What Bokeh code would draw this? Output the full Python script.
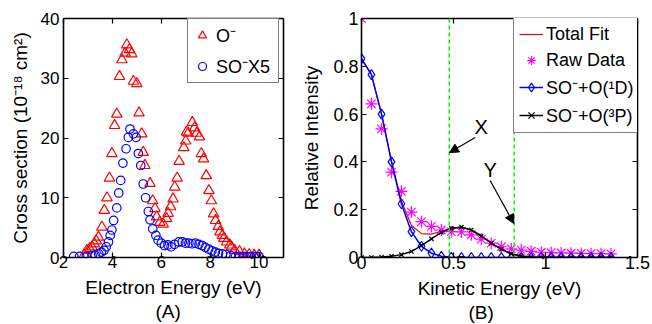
from bokeh.plotting import figure
from bokeh.models import (Range1d, LinearAxis, FixedTicker, CustomJSTickFormatter,
                          Legend, LegendItem, Title, Span, Arrow, NormalHead, Label)
from bokeh.layouts import row
from bokeh.embed import file_html
from bokeh.resources import INLINE

FONT = "Liberation Sans"

# ---------------- Panel (A) data ----------------
o_minus_energy = [2.85, 2.96, 3.07, 3.17, 3.26, 3.34, 3.43, 3.57, 3.67, 3.78,
                  3.88, 3.98, 4.09, 4.18, 4.29, 4.39, 4.52, 4.59, 4.70, 4.79,
                  4.86, 5.00, 5.09, 5.20, 5.26, 5.33, 5.54, 5.65, 5.74, 5.81,
                  5.94, 6.08, 6.22, 6.28, 6.38, 6.48, 6.55, 6.65, 6.73, 6.92,
                  7.00, 7.03, 7.10, 7.27, 7.36, 7.45, 7.56, 7.64, 7.73, 7.84,
                  7.95, 8.05, 8.14, 8.22, 8.33, 8.40, 8.50, 8.56, 8.67, 8.80,
                  8.87, 9.00, 9.20, 9.40, 9.60, 9.80, 10.00]
o_minus_cs = [0.5, 1.2, 1.5, 1.8, 2.3, 2.8, 3.4, 5.1, 7.9, 10.0,
              13.3, 17.4, 22.1, 24.0, 30.3, 33.1, 34.2, 35.6, 34.8, 34.1,
              29.5, 29.1, 24.2, 20.7, 17.6, 15.4, 12.4, 9.5, 8.2, 6.8,
              5.9, 5.6, 6.5, 7.4, 8.5, 9.8, 11.8, 13.3, 16.1, 18.4,
              19.5, 21.0, 20.8, 22.6, 21.7, 20.8, 20.2, 17.4, 16.5, 13.7,
              11.2, 9.5, 7.3, 6.2, 5.2, 4.3, 3.7, 3.2, 2.6, 2.1,
              1.8, 1.2, 1.0, 0.6, 0.5, 0.4, 0.4]

so_minus_energy = [2.42, 2.66, 2.93, 3.17, 3.30, 3.44, 3.55, 3.66, 3.75, 3.84,
                   3.91, 3.98, 4.05, 4.18, 4.26, 4.34, 4.43, 4.56, 4.65, 4.72,
                   4.86, 4.97, 5.06, 5.16, 5.26, 5.36, 5.47, 5.54, 5.65, 5.78,
                   5.87, 6.00, 6.13, 6.27, 6.40, 6.54, 6.72, 6.86, 6.99, 7.13,
                   7.26, 7.40, 7.54, 7.67, 7.80, 7.94, 8.07, 8.21, 8.34, 8.50,
                   8.64, 8.84, 9.04, 9.20, 9.35, 9.50, 9.65, 9.80, 9.90, 10.00]
so_minus_cs_x5 = [0.2, 0.2, 0.2, 0.3, 0.4, 0.6, 0.9, 1.2, 1.8, 2.6,
                  3.7, 4.6, 6.2, 8.3, 10.8, 12.9, 15.8, 18.2, 20.1, 21.5,
                  20.7, 20.1, 17.4, 15.4, 12.3, 10.0, 7.7, 6.3, 4.8, 3.7,
                  2.9, 2.4, 2.0, 2.1, 1.8, 2.2, 2.6, 2.6, 2.4, 2.4,
                  2.3, 2.4, 2.2, 2.0, 1.7, 1.4, 1.1, 0.9, 0.7, 0.6,
                  0.5, 0.3, 0.2, 0.2, 0.15, 0.15, 0.15, 0.15, 0.15, 0.15]

a_xticks = [2, 4, 6, 8, 10]
a_yticks = [0, 10, 20, 30, 40]

# ---------------- Panel (B) data ----------------
kinetic_energy = [0.000, 0.054, 0.109, 0.163, 0.217, 0.271, 0.326, 0.380, 0.434, 0.488,
                  0.543, 0.597, 0.651, 0.705, 0.760, 0.814, 0.868, 0.922, 0.977, 1.031,
                  1.085, 1.139, 1.194, 1.248, 1.302, 1.356]
raw_data = [1.0, 0.643, 0.538, 0.357, 0.277, 0.19, 0.15, 0.13, 0.115, 0.108,
            0.107, 0.095, 0.077, 0.06, 0.045, 0.036, 0.031, 0.026, 0.022, 0.02,
            0.019, 0.018, 0.017, 0.016, 0.016, 0.015]
total_fit = [0.83, 0.765, 0.6, 0.403, 0.235, 0.135, 0.1, 0.098, 0.11, 0.122,
             0.127, 0.115, 0.09, 0.06, 0.035, 0.015, 0.006, 0.002, 0, 0,
             0, 0, 0, 0, 0, 0]
so_o1d = [0.832, 0.765, 0.6, 0.4, 0.225, 0.108, 0.047, 0.018, 0.005, 0.001,
          0, 0, 0, 0, 0, 0, 0, 0, 0, 0,
          0, 0, 0, 0, 0, 0]
so_o3p = [0, 0, 0.002, 0.005, 0.012, 0.025, 0.05, 0.078, 0.105, 0.122,
          0.127, 0.115, 0.09, 0.06, 0.035, 0.015, 0.006, 0.002, 0, 0,
          0, 0, 0, 0, 0, 0]
x_threshold = 0.477
y_threshold = 0.83

b_xticks = [0, 0.5, 1, 1.5]
b_yticks = [0, 0.2, 0.4, 0.6, 0.8, 1]

# annotation placement (data units of panel B)
x_label_pos = (0.65, 0.548)
x_arrow = (0.618, 0.502, 0.478, 0.439)
y_label_pos = (0.699, 0.368)
y_arrow = (0.699, 0.322, 0.828, 0.142)


def style_axis(ax, ticks, font_size, standoff, label_standoff, show_labels=True):
    ax.ticker = FixedTicker(ticks=ticks)
    ax.formatter = CustomJSTickFormatter(code="return String(tick)")
    ax.major_tick_in = 5
    ax.major_tick_out = 0
    ax.minor_tick_line_color = None
    ax.axis_line_width = 1.6
    ax.axis_line_color = "black"
    ax.major_tick_line_color = "black"
    ax.major_tick_line_width = 1.2
    ax.major_label_text_font = FONT
    if show_labels:
        ax.major_label_text_color = "black"
        ax.major_label_text_font_size = font_size
        ax.major_label_standoff = standoff
    else:
        ax.major_label_text_color = None
        ax.major_label_text_font_size = "1px"
        ax.major_label_standoff = 0
    ax.axis_label_text_font = FONT
    ax.axis_label_text_font_style = "normal"
    ax.axis_label_text_font_size = "19px"
    ax.axis_label_text_color = "black"
    ax.axis_label_standoff = label_standoff


def make_fig(width, xr, yr, left, right):
    p = figure(width=width, height=324, x_range=xr, y_range=yr,
               output_backend="svg", toolbar_location=None,
               min_border_left=left, min_border_right=right,
               min_border_top=18, min_border_bottom=67)
    p.grid.visible = False
    p.outline_line_color = None
    return p


# ---------------- Panel (A) ----------------
pa = make_fig(298, Range1d(2, 11), Range1d(0, 40), 63, 15)
r_o = pa.scatter(o_minus_energy, o_minus_cs, marker="triangle", size=10.5,
                 line_color="red", fill_color=None, line_width=1.2)
r_so = pa.scatter(so_minus_energy, so_minus_cs_x5, marker="circle", size=8.5,
                  line_color="blue", fill_color=None, line_width=1.2)

style_axis(pa.xaxis[0], a_xticks, "17px", -2, 6)
style_axis(pa.yaxis[0], a_yticks, "17px", 4, 7)
pa.xaxis[0].axis_label = "Electron Energy (eV)"
pa.yaxis[0].axis_label = "Cross section (10\u207b\u00b9\u2078 cm\u00b2)"
ta = LinearAxis()
style_axis(ta, a_xticks, "1px", 0, 0, show_labels=False)
pa.add_layout(ta, "above")
ra = LinearAxis()
style_axis(ra, a_yticks, "1px", 0, 0, show_labels=False)
pa.add_layout(ra, "right")
pa.add_layout(Title(text="(A)", align="left", offset=92, text_font=FONT,
                    text_font_size="19px", text_font_style="normal",
                    text_color="black", standoff=-3), "below")

leg_a = Legend(items=[LegendItem(label="O\u207b", renderers=[r_o]),
                      LegendItem(label="SO\u207bX5", renderers=[r_so])],
               location=(124, 174), label_text_font=FONT, label_text_font_size="18px",
               label_text_color="black", glyph_width=20, glyph_height=22,
               label_height=22, label_width=58, label_standoff=4, padding=4,
               spacing=7, margin=0, border_line_color="black", border_line_width=1.5,
               background_fill_color="white", background_fill_alpha=1)
pa.add_layout(leg_a)

# ---------------- Panel (B) ----------------
pb = make_fig(354, Range1d(0, 1.5), Range1d(0, 1), 60, 15)
pb.add_layout(Span(location=x_threshold, dimension="height", line_color="#00f000",
                   line_dash="4 3", line_width=1.5))
pb.add_layout(Span(location=y_threshold, dimension="height", line_color="#00f000",
                   line_dash="4 3", line_width=1.5))

r_fit = pb.line(kinetic_energy, total_fit, line_color="red", line_width=1.2)
r_raw = pb.scatter(kinetic_energy, raw_data, marker="asterisk", size=12,
                   line_color="magenta", line_width=1.2)
r_1d_l = pb.line(kinetic_energy, so_o1d, line_color="blue", line_width=1.5)
r_1d_m = pb.scatter(kinetic_energy, so_o1d, marker="diamond", size=10,
                    line_color="blue", fill_color=None, line_width=1.2)
r_3p_l = pb.line(kinetic_energy, so_o3p, line_color="black", line_width=1.5)
r_3p_m = pb.scatter(kinetic_energy, so_o3p, marker="x", size=6,
                    line_color="black", line_width=1.2)

style_axis(pb.xaxis[0], b_xticks, "18px", -2, 6)
style_axis(pb.yaxis[0], b_yticks, "18px", 3, 8)
pb.xaxis[0].axis_label = "Kinetic Energy (eV)"
pb.yaxis[0].axis_label = "Relative Intensity"
tb = LinearAxis()
style_axis(tb, b_xticks, "1px", 0, 0, show_labels=False)
pb.add_layout(tb, "above")
rb = LinearAxis()
style_axis(rb, b_yticks, "1px", 0, 0, show_labels=False)
pb.add_layout(rb, "right")
pb.add_layout(Title(text="(B)", align="left", offset=107, text_font=FONT,
                    text_font_size="19px", text_font_style="normal",
                    text_color="black", standoff=-3), "below")

for (tx, ty), txt, (xs, ys, xe, ye) in [(x_label_pos, "X", x_arrow), (y_label_pos, "Y", y_arrow)]:
    pb.add_layout(Label(x=tx, y=ty, text=txt, text_align="center", text_baseline="middle",
                        text_font=FONT, text_font_size="20px", text_color="black"))
    pb.add_layout(Arrow(end=NormalHead(size=9, fill_color="black", line_color="black",
                                       line_width=1),
                        x_start=xs, y_start=ys, x_end=xe, y_end=ye,
                        line_color="black", line_width=1.2))

leg_b = Legend(items=[LegendItem(label="Total Fit", renderers=[r_fit]),
                      LegendItem(label="Raw Data", renderers=[r_raw]),
                      LegendItem(label="SO\u207b+O(\u00b9D)", renderers=[r_1d_l, r_1d_m]),
                      LegendItem(label="SO\u207b+O(\u00b3P)", renderers=[r_3p_l, r_3p_m])],
               location=(152, 124), label_text_font=FONT, label_text_font_size="18px",
               label_text_color="black", glyph_width=24, glyph_height=22,
               label_height=22, label_width=97, label_standoff=3, padding=5,
               spacing=4, margin=0, border_line_color="black", border_line_width=1.5,
               background_fill_color="white", background_fill_alpha=1)
pb.add_layout(leg_b)

layout = row(pa, pb)
open("out.html", "w").write(file_html(layout, INLINE))
